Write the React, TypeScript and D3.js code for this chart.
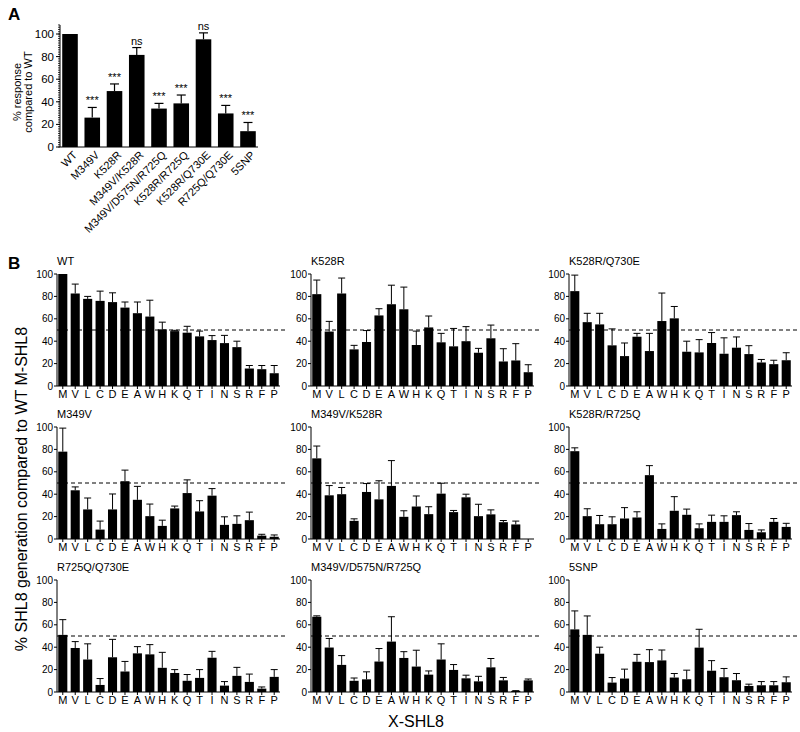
import React from "react";
import * as d3 from "d3";

// panel A: overall response per mutant
const panelANames = [
  "WT",
  "M349V",
  "K528R",
  "M349V/K528R",
  "M349V/D575N/R725Q",
  "K528R/R725Q",
  "K528R/Q730E",
  "R725Q/Q730E",
  "5SNP"
];
const panelAMean = [100, 26, 49.5, 81.5, 34, 38.6, 95.3, 29.7, 14];
const panelASem = [0, 9, 6.3, 6.5, 4.6, 7.4, 5.7, 7.1, 7.7];
const panelASig = ["", "***", "***", "ns", "***", "***", "ns", "***", "***"];

// panel B: X-SHL8 residues
const residues = ["M", "V", "L", "C", "D", "E", "A", "W", "H", "K", "Q", "T", "I", "N", "S", "R", "F", "P"];

const wtMean = [100, 82.6, 77.8, 76, 74.9, 70, 65, 62, 50.6, 49, 47.6, 44.3, 41, 38.3, 34.7, 15.6, 15, 11.4];
const wtSem = [0, 8.4, 2.2, 8.7, 8.3, 5, 10, 14.6, 6.4, 0.7, 5.7, 4.7, 4, 6.9, 5.3, 2.7, 3.3, 6.9];

const k528rMean = [82, 48.6, 82.6, 32.7, 39.3, 63, 73, 68.5, 36.6, 52.3, 39, 35.4, 40, 29.7, 42.6, 21.9, 22.8, 12.3];
const k528rSem = [12.6, 9.1, 13.8, 3.6, 10.2, 6, 17, 19.8, 12.4, 10.2, 8, 16, 13, 3.9, 11.8, 11.4, 15, 6.7];

const k528rQ730eMean = [84.7, 57, 55, 36.3, 26.7, 44, 31.2, 58, 60.4, 30.6, 30, 38.4, 28.8, 34.2, 28.5, 21, 19.5, 23];
const k528rQ730eSem = [14.3, 7.9, 9.9, 14.7, 11.7, 3, 15.8, 25, 10.6, 9.4, 11.4, 9.3, 14.2, 9.6, 7.5, 2.7, 3.5, 6.7];

const m349vMean = [78, 43.5, 26.4, 8.4, 26.4, 51.6, 35, 20.4, 11.7, 27.3, 41, 24.6, 38.7, 12.6, 13.5, 16.8, 3, 2];
const m349vSem = [21, 3, 10.2, 7.6, 13.8, 9.9, 12, 10.8, 5.1, 2.1, 11.8, 9.6, 6.3, 7.2, 7.2, 7.2, 1.2, 1.6];

const m349vK528rMean = [72, 39, 40, 16.2, 42, 35.4, 47.4, 19.8, 29, 22.2, 40.5, 24, 37.2, 20.4, 22, 15, 13, 0];
const m349vK528rSem = [11, 8.7, 6, 1.8, 7.5, 16.6, 22.6, 5.4, 9.4, 6.6, 9.3, 1.5, 2.8, 10.6, 4, 1.5, 3, 0];

const k528rR725qMean = [78.4, 20.4, 13.2, 13.2, 18.3, 19.2, 57, 9, 25.2, 21.6, 9.6, 15.3, 15.3, 21.3, 8.1, 6, 15.3, 10.8];
const k528rR725qSem = [3, 6.6, 7.8, 6.6, 9.7, 5.1, 8.5, 4.5, 12.6, 5.1, 3.9, 6, 5.4, 3, 5.7, 2.1, 3, 3.2];

const r725qQ730eMean = [51, 39.3, 29, 6.3, 31, 18.3, 34.5, 33.6, 21.6, 17, 10, 12.6, 30.6, 5.7, 14.4, 9, 3, 13.5];
const r725qQ730eSem = [13.6, 5.7, 14, 5.7, 16, 9, 6, 8.7, 13.8, 3, 5.6, 7.4, 5.7, 3.6, 7.6, 7, 1.5, 6.5];

const tripleMean = [67.2, 39.7, 24.2, 10, 11.3, 27.2, 45, 30.4, 22.7, 15.5, 29, 19.7, 12.2, 9.5, 22, 10.4, 1, 10.4];
const tripleSem = [0.8, 8.1, 8.3, 2.5, 6.7, 11.6, 22.2, 5.6, 14.6, 3.3, 14, 4.8, 2.8, 4.5, 7.9, 2.6, 0.2, 1.2];

const snp5Mean = [55.9, 51, 34.2, 8.4, 12, 27, 26.7, 28.2, 12.9, 11.4, 39.6, 19, 13.2, 10.5, 5.4, 6, 6, 8.7];
const snp5Sem = [16.5, 16.9, 5.8, 4.5, 8.4, 6.6, 11.1, 9.3, 3.6, 8.1, 16.4, 9, 7.8, 6, 1.6, 3.3, 3.3, 4.8];

const panelsB = [
  { title: "WT", mean: wtMean, sem: wtSem },
  { title: "K528R", mean: k528rMean, sem: k528rSem },
  { title: "K528R/Q730E", mean: k528rQ730eMean, sem: k528rQ730eSem },
  { title: "M349V", mean: m349vMean, sem: m349vSem },
  { title: "M349V/K528R", mean: m349vK528rMean, sem: m349vK528rSem },
  { title: "K528R/R725Q", mean: k528rR725qMean, sem: k528rR725qSem },
  { title: "R725Q/Q730E", mean: r725qQ730eMean, sem: r725qQ730eSem },
  { title: "M349V/D575N/R725Q", mean: tripleMean, sem: tripleSem },
  { title: "5SNP", mean: snp5Mean, sem: snp5Sem }
];

const font = "Liberation Sans, Arial, Helvetica, sans-serif";

function PanelA() {
  const x = d3
    .scaleBand()
    .domain(panelANames)
    .range([60, 258])
    .paddingInner(0.3)
    .paddingOuter(0.1);
  const y = d3.scaleLinear().domain([0, 100]).range([147, 34]);
  const bw = x.bandwidth();
  const minor = d3.range(0, 108.1, 2);

  return (
    <g fontFamily={font}>
      <text x={8} y={20} fontSize={17} fontWeight="bold">A</text>
      <text
        transform="translate(21,92) rotate(-90)"
        textAnchor="middle"
        fontSize={11}
      >
        <tspan x={0} dy={0}>% response</tspan>
        <tspan x={0} dy={11}>compared to WT</tspan>
      </text>
      {/* y axis */}
      <line x1={60} x2={60} y1={y(0)} y2={y(108)} stroke="#000" />
      {minor.map(t => (
        <line key={t} x1={58} x2={60} y1={y(t)} y2={y(t)} stroke="#000" strokeWidth={0.8} />
      ))}
      {y.ticks(5).map(t => (
        <g key={t}>
          <line x1={56} x2={60} y1={y(t)} y2={y(t)} stroke="#000" />
          <text x={54} y={y(t)} dy="0.35em" textAnchor="end" fontSize={11.5}>
            {t}
          </text>
        </g>
      ))}
      <line x1={60} x2={258} y1={y(0)} y2={y(0)} stroke="#000" />
      {panelANames.map((n, i) => {
        const cx = (x(n) as number) + bw / 2;
        const top = y(panelAMean[i] + panelASem[i]);
        return (
          <g key={n}>
            <rect x={x(n)} y={y(panelAMean[i])} width={bw} height={y(0) - y(panelAMean[i])} fill="#000" />
            {panelASem[i] > 0 && (
              <g stroke="#000" strokeWidth={1.2}>
                <line x1={cx} x2={cx} y1={y(panelAMean[i])} y2={top} />
                <line x1={cx - 4.5} x2={cx + 4.5} y1={top} y2={top} />
              </g>
            )}
            {panelASig[i] && (
              <text x={cx} y={top - 3} textAnchor="middle" fontSize={11} fill="#000">
                {panelASig[i]}
              </text>
            )}
            <text
              transform={`translate(${cx + 5},${y(0) + 6}) rotate(-45)`}
              textAnchor="end"
              dy="0.35em"
              fontSize={11}
            >
              {n}
            </text>
          </g>
        );
      })}
    </g>
  );
}

function SmallPanel({ title, mean, sem, x0, y0 }) {
  const plotW = 223;
  const plotH = 112;
  const x = d3
    .scaleBand()
    .domain(residues)
    .range([x0, x0 + plotW])
    .paddingInner(0.27)
    .paddingOuter(0.1);
  const y = d3.scaleLinear().domain([0, 100]).range([y0, y0 - plotH]);
  const bw = x.bandwidth();

  return (
    <g fontFamily={font}>
      <text x={x0} y={y0 - plotH - 9} fontSize={11}>{title}</text>
      <line x1={x0} x2={x0} y1={y(0)} y2={y(100)} stroke="#000" />
      {y.ticks(5).map(t => (
        <g key={t}>
          <line x1={x0 - 3} x2={x0} y1={y(t)} y2={y(t)} stroke="#000" />
          <text x={x0 - 4} y={y(t)} dy="0.35em" textAnchor="end" fontSize={10}>
            {t}
          </text>
        </g>
      ))}
      <line x1={x0} x2={x0 + plotW} y1={y(0)} y2={y(0)} stroke="#000" />
      <line
        x1={x0}
        x2={x0 + plotW + 7}
        y1={y(50)}
        y2={y(50)}
        stroke="#000"
        strokeDasharray="4,3"
      />
      {residues.map((r, i) => {
        const cx = (x(r) as number) + bw / 2;
        const top = y(mean[i] + sem[i]);
        return (
          <g key={r}>
            <line x1={cx} x2={cx} y1={y0} y2={y0 + 3} stroke="#000" />
            {mean[i] > 0 && (
              <rect x={x(r)} y={y(mean[i])} width={bw} height={y0 - y(mean[i])} fill="#000" />
            )}
            {sem[i] > 0 && (
              <g stroke="#000" strokeWidth={1}>
                <line x1={cx} x2={cx} y1={y(mean[i])} y2={top} />
                <line x1={cx - 3.5} x2={cx + 3.5} y1={top} y2={top} />
              </g>
            )}
            <text x={cx} y={y0 + 11.5} textAnchor="middle" fontSize={11}>
              {r}
            </text>
          </g>
        );
      })}
    </g>
  );
}

const colX = [57, 311, 569];
const rowY = [386, 539, 692];

export default function App() {
  return (
    <svg
      width={800}
      height={732}
      style={{ position: "absolute", left: 0, top: 0, background: "#fff" }}
    >
      <rect width={800} height={732} fill="#fff" />
      <PanelA />
      <text x={8} y={269} fontSize={17} fontWeight="bold" fontFamily={font}>B</text>
      {panelsB.map((p, i) => (
        <SmallPanel
          key={p.title}
          title={p.title}
          mean={p.mean}
          sem={p.sem}
          x0={colX[i % 3]}
          y0={rowY[Math.floor(i / 3)]}
        />
      ))}
      <text
        transform="translate(27,489) rotate(-90)"
        textAnchor="middle"
        fontSize={16}
        fontFamily={font}
      >
        % SHL8 generation compared to WT M-SHL8
      </text>
      <text x={416} y={727} textAnchor="middle" fontSize={16} fontFamily={font}>
        X-SHL8
      </text>
    </svg>
  );
}
